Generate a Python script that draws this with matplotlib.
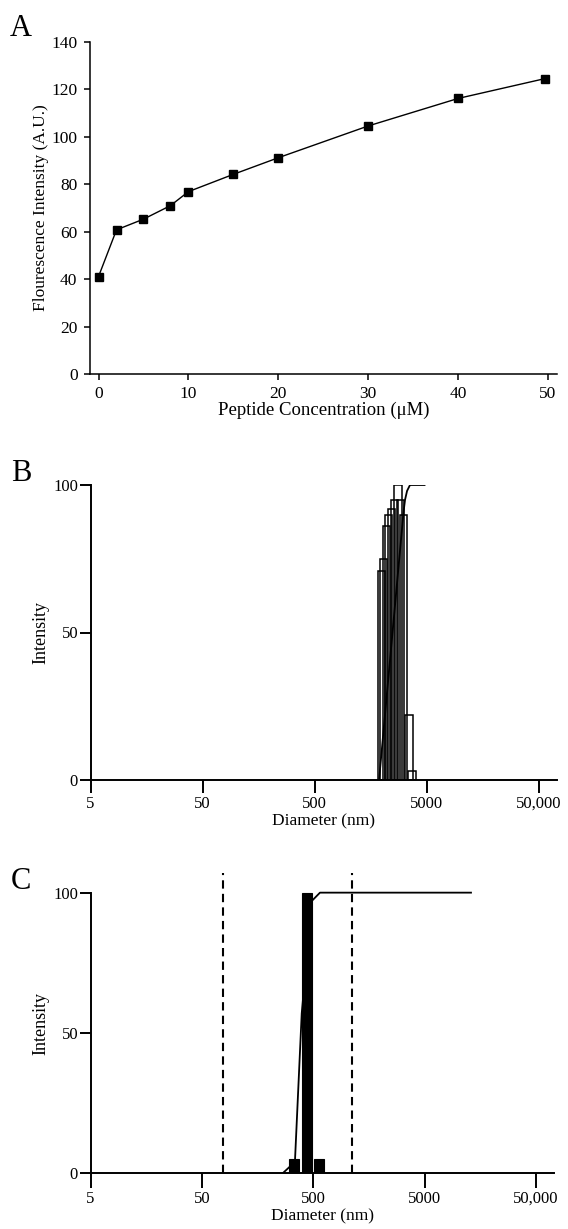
import matplotlib
matplotlib.use("Agg")
import matplotlib.pyplot as plt

plt.rcParams['font.family'] = ['Liberation Serif', 'DejaVu Serif']

# ---- panel A: fluorescence titration ----
conc = [0, 2, 5, 8, 10, 15, 20, 30, 40, 49.7]
fluor = [41.1, 60.8, 65.3, 71.0, 76.9, 84.2, 91.2, 104.6, 116.2, 124.6]
a_xticks = [0, 10, 20, 30, 40, 50]
a_yticks = [0, 20, 40, 60, 80, 100, 120, 140]

# ---- panel B: DLS, peptide alone (overlaid bins, nm) ----
b_left = [1824, 1914, 2015, 2121, 2256, 2399, 2525, 2714, 2886, 3199, 3404]
b_right = [2105, 2210, 2330, 2450, 2605, 2770, 2988, 3100, 3313, 3793, 3984]
b_height = [71, 75, 86, 90, 92, 95, 100, 95, 90, 22, 3]
b_cum_d = [1875, 3103, 3199, 3334, 3541, 4775]
b_cum_v = [0, 91, 95, 98, 100, 100]

# ---- panel C: DLS, second sample ----
c_left = [304, 393, 509]
c_right = [371, 483, 622]
c_height = [5, 100, 5]
c_cum_d = [265, 304, 342, 393, 483, 573, 13000]
c_cum_v = [0, 2.2, 4.7, 57, 97, 100, 100]
c_dashed = [77, 1120]

dls_xticks = [5, 50, 500, 5000, 50000]
dls_xlabels = ['5', '50', '500', '5000', '50,000']
dls_yticks = [0, 50, 100]

W, H = 568, 1229
fig = plt.figure(figsize=(W / 100, H / 100), dpi=100)


def rect(x0, x1, ytop, ybot):
    return [x0 / W, 1 - ybot / H, (x1 - x0) / W, (ybot - ytop) / H]


def style(ax, lw, xlen, ylen, size, xpad, ypad):
    ax.spines['top'].set_visible(False)
    ax.spines['right'].set_visible(False)
    ax.spines['left'].set_linewidth(lw)
    ax.spines['bottom'].set_linewidth(lw)
    ax.tick_params(axis='x', direction='out', length=xlen, width=lw, labelsize=size, pad=xpad)
    ax.tick_params(axis='y', direction='out', length=ylen, width=lw, labelsize=size, pad=ypad)


# A
axA = fig.add_axes(rect(90, 557, 42, 374))
axA.plot(conc, fluor, color='black', lw=1.0, marker='s', ms=5.5, mfc='black', mec='black')
axA.set_xlim(-0.95, 51.0)
axA.set_ylim(0, 140)
axA.set_xticks(a_xticks)
axA.set_yticks(a_yticks)
style(axA, 1.1, 4.5, 4, 12.5, 4, 5)
axA.set_xlabel('Peptide Concentration (\u03bcM)', fontsize=13.5, labelpad=0)
axA.set_ylabel('Flourescence Intensity (A.U.)', fontsize=12.5, labelpad=2)
fig.text(10 / W, 1 - 36 / H, 'A', fontsize=22)

# B
axB = fig.add_axes(rect(90.6, 557, 485, 780))
for l, r, h in zip(b_left, b_right, b_height):
    axB.bar(l, h, width=r - l, align='edge', facecolor='none', edgecolor='black', lw=1.1)
axB.plot(b_cum_d, b_cum_v, color='black', lw=1.3)
axB.set_xscale('log')
axB.set_xlim(5, 72600)
axB.set_ylim(0, 100)
axB.set_xticks(dls_xticks)
axB.set_xticklabels(dls_xlabels)
axB.minorticks_off()
axB.set_yticks(dls_yticks)
style(axB, 1.4, 9.5, 8, 12, 2, 1)
axB.set_xlabel('Diameter (nm)', fontsize=12.5, labelpad=1)
axB.set_ylabel('Intensity', fontsize=13, labelpad=3)
fig.text(11 / W, 1 - 481 / H, 'B', fontsize=22)

# C
axC = fig.add_axes(rect(90.6, 554, 873, 1173.3))
for l, r, h in zip(c_left, c_right, c_height):
    axC.bar(l, h, width=r - l, align='edge', facecolor='black', edgecolor='black', lw=0.8)
axC.plot(c_cum_d, c_cum_v, color='black', lw=1.3, zorder=1)
for d in c_dashed:
    axC.axvline(d, ymin=0, ymax=1, color='black', lw=1.5, ls=(0, (4, 2.5)))
axC.set_xscale('log')
axC.set_xlim(5, 72300)
axC.set_ylim(0, 107)
axC.spines['left'].set_bounds(0, 100)
axC.set_xticks(dls_xticks)
axC.set_xticklabels(dls_xlabels)
axC.minorticks_off()
axC.set_yticks(dls_yticks)
style(axC, 1.4, 10.5, 8, 12, 2, 1)
axC.set_xlabel('Diameter (nm)', fontsize=12.5, labelpad=1)
axC.set_ylabel('Intensity', fontsize=13, labelpad=3)
fig.text(11 / W, 1 - 889 / H, 'C', fontsize=22)

fig.savefig('out.png', dpi=100, facecolor='white')
